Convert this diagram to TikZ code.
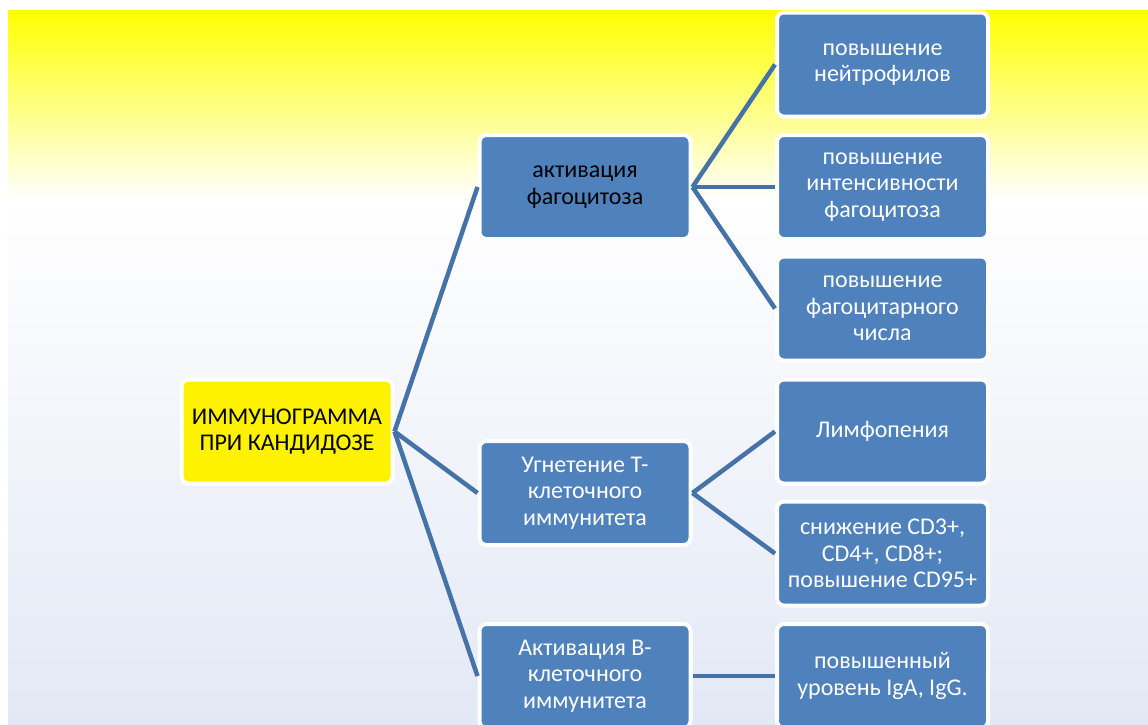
\documentclass[tikz,border=0pt]{standalone}
\usepackage{fontspec}
\setmainfont{Carlito}
\definecolor{boxblue}{RGB}{79,129,189}
\definecolor{linkblue}{RGB}{69,114,167}
\definecolor{bgyellow}{RGB}{255,255,0}
\definecolor{bgbottom}{RGB}{226,232,245}
\tikzset{
  box/.style={rectangle, rounded corners=7pt, draw=white, line width=4pt,
    fill=boxblue, text=white, minimum width=211pt, minimum height=104pt,
    inner sep=1pt, align=center, font=\fontsize{24}{26.5}\selectfont},
  rootbox/.style={box, fill=yellow, text=black},
  link/.style={draw=linkblue, line width=4.5pt}
}
\begin{document}
\begin{tikzpicture}[x=1pt,y=-1pt]
\useasboundingbox (0,0) rectangle (1148,724);
\fill[white] (0,0) rectangle (1148,724);
\shade[top color=bgyellow, bottom color=white] (8,10) rectangle (1148,200);
\shade[top color=white, bottom color=bgbottom] (8,199.5) rectangle (1148,724);

\node[rootbox] (root) at (287,431.5) {ИММУНОГРАММА\\ПРИ КАНДИДОЗЕ};
\node[box, text=black] (m1) at (585,187) {активация\\фагоцитоза};
\node[box] (m2) at (585,493) {Угнетение Т-\\клеточного\\иммунитета};
\node[box] (m3) at (585,676) {Активация В-\\клеточного\\иммунитета};
\node[box] (r1) at (882.5,64.5) {повышение\\нейтрофилов};
\node[box] (r2) at (882.5,187) {повышение\\интенсивности\\фагоцитоза};
\node[box] (r3) at (882.5,308.5) {повышение\\фагоцитарного\\числа};
\node[box] (r4) at (882.5,431.5) {Лимфопения};
\node[box] (r5) at (882.5,553.5) {снижение CD3+,\\CD4+, CD8+;\\повышение CD95+};
\node[box] (r6) at (882.5,676) {повышенный\\уровень IgA, IgG.};

\draw[link] (root.east) -- (m1.west);
\draw[link] (root.east) -- (m2.west);
\draw[link] (root.east) -- (m3.west);
\draw[link] (m1.east) -- (r1.west);
\draw[link] (m1.east) -- (r2.west);
\draw[link] (m1.east) -- (r3.west);
\draw[link] (m2.east) -- (r4.west);
\draw[link] (m2.east) -- (r5.west);
\draw[link] (m3.east) -- (r6.west);
\end{tikzpicture}
\end{document}
